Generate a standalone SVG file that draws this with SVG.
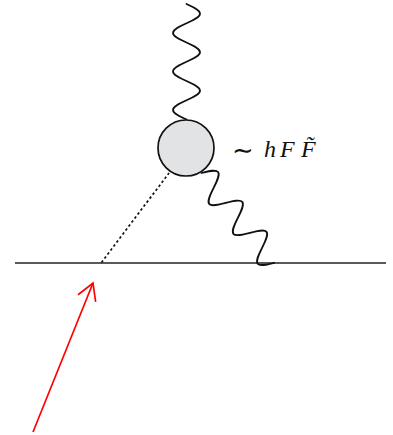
<svg xmlns="http://www.w3.org/2000/svg" width="393" height="435" viewBox="0 0 393 435">
<style>
.wave{fill:none;stroke:#111;stroke-width:1.8;stroke-linecap:round}
.line{fill:none;stroke:#222;stroke-width:1.6}
.dash{fill:none;stroke:#111;stroke-width:1.7;stroke-dasharray:2.5 2.5}
.blob{fill:#e2e3e5;stroke:#111;stroke-width:1.7}
.arrow{fill:none;stroke:#ff0000;stroke-width:1.7}
.lbl{font-family:"Liberation Serif","DejaVu Serif",serif;font-size:24px;fill:#111}
.sim{font-family:"DejaVu Sans",sans-serif;font-size:26px}
</style>
<defs>
<path id="photon" d="M0,0 c3.14,-6.92 6.14,-13.5 9.625,-13.5 s6.49,6.58 9.625,13.5 s6.14,13.5 9.625,13.5 s6.49,-6.58 9.625,-13.5 s6.14,-13.5 9.625,-13.5 s6.49,6.58 9.625,13.5 s6.14,13.5 9.625,13.5 s6.49,-6.58 9.625,-13.5 s6.14,-13.5 9.625,-13.5 s6.49,6.58 9.625,13.5 s6.14,13.5 9.625,13.5 s6.49,-6.58 9.625,-13.5"/>
<marker id="head" markerUnits="userSpaceOnUse" markerWidth="24" markerHeight="24" viewBox="-20 -12 24 24" refX="0" refY="0" orient="auto">
<path d="M-16.5,-9.5 L0,0 L-16.5,9.5" fill="none" stroke="#ff0000" stroke-width="1.7"/>
</marker>
</defs>
<g id="connectors">
<line id="fermion-line" class="line" x1="15" y1="263" x2="386" y2="263"/>
<use id="photon-top" href="#photon" class="wave" transform="translate(186.5,119.5) rotate(-90)"/>
<use id="photon-diag" href="#photon" class="wave" transform="translate(201.5,173) rotate(51)"/>
<line id="scalar" class="dash" x1="101.5" y1="262.5" x2="169" y2="173"/>
<line id="arrow" class="arrow" x1="33" y1="432" x2="93" y2="283" marker-end="url(#head)"/>
</g>
<g id="blob">
<circle class="blob" cx="186" cy="148" r="28"/>
</g>
<g id="label">
<text class="lbl" y="157"><tspan class="sim" x="232" y="158.5">∼</tspan><tspan x="264" y="157" font-style="italic">h</tspan><tspan x="280" font-style="italic">F</tspan><tspan x="301" font-style="italic">F̃</tspan></text>
</g>
</svg>
